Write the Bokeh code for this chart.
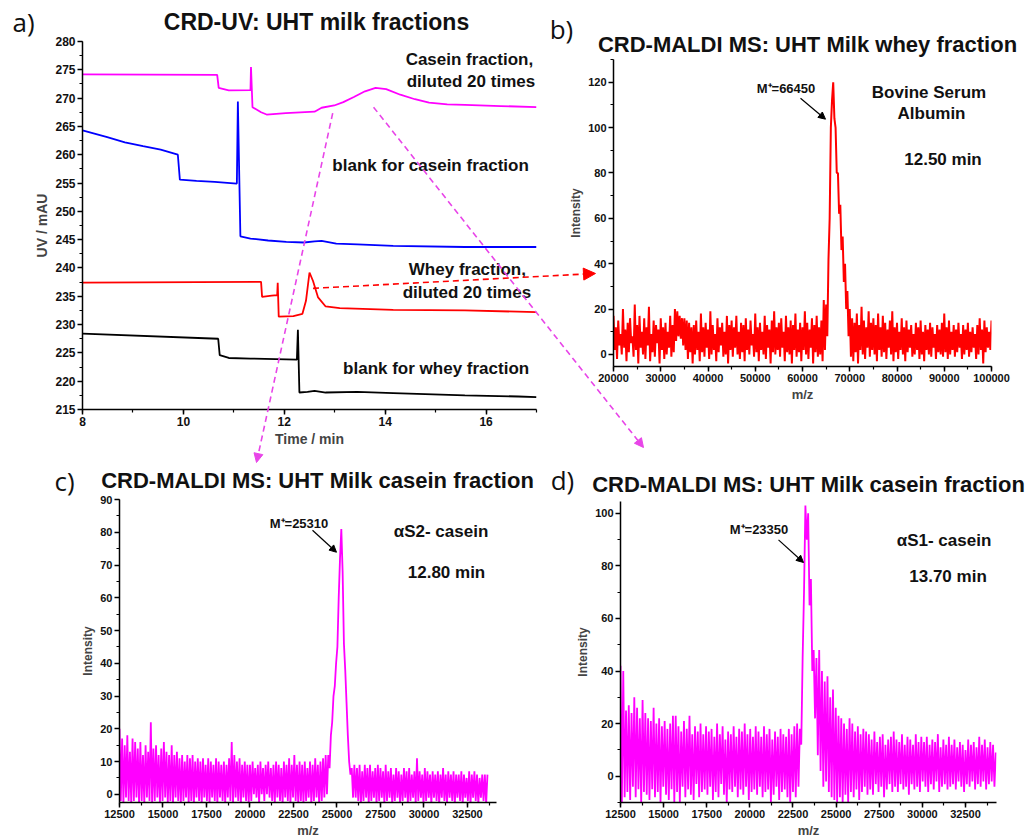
from bokeh.plotting import figure
from bokeh.models import (Range1d, SingleIntervalTicker, BasicTickFormatter,
                          Label, Arrow, NormalHead, Spacer)
from bokeh.layouts import row, column
from bokeh.embed import file_html
from bokeh.resources import INLINE

FONT = "Liberation Sans"

# ---------------- data: panel a (CRD-UV traces) ----------------
casein_t = [8.0, 10.67, 10.70, 10.9, 11.33, 11.34, 11.37, 11.54, 11.65, 12.03, 12.6, 12.74,
            12.99, 13.17, 13.38, 13.6, 13.81, 14.02, 14.3, 14.59, 14.87, 15.23, 15.58, 16.29, 17.0]
casein_uv = [274.2, 274.1, 271.8, 271.35, 271.4, 275.5, 268.4, 267.5, 267.1, 267.35, 267.6, 268.3,
             268.7, 269.3, 270.2, 271.2, 271.8, 271.6, 270.6, 269.8, 269.2, 268.9, 268.8, 268.6, 268.4]

blank_casein_t = [8.0, 8.49, 8.84, 9.2, 9.55, 9.89, 9.93, 10.26, 10.62, 11.06, 11.08, 11.13, 11.33,
                  11.68, 12.04, 12.39, 12.6, 12.74, 13.03, 13.45, 14.16, 15.58, 17.0]
blank_casein_uv = [264.3, 263.1, 262.2, 261.5, 260.9, 260.0, 255.6, 255.4, 255.2, 254.9, 269.4, 245.6,
                   245.2, 244.85, 244.6, 244.5, 244.7, 244.8, 244.3, 244.15, 243.9, 243.7, 243.7]

whey_t = [8.0, 11.54, 11.56, 11.75, 11.86, 11.87, 11.89, 12.18, 12.36, 12.43, 12.5, 12.57, 12.67,
          12.82, 13.1, 14.16, 15.58, 17.0]
whey_uv = [237.4, 237.55, 234.9, 235.1, 235.2, 237.4, 231.4, 231.5, 231.9, 234.2, 239.2, 237.7, 234.8,
           233.2, 232.9, 232.6, 232.5, 232.2]

blank_whey_t = [8.0, 10.69, 10.72, 10.9, 11.33, 12.25, 12.27, 12.3, 12.46, 12.6, 12.82, 13.45, 14.16,
                15.58, 16.64, 17.0]
blank_whey_uv = [228.4, 227.5, 224.6, 224.1, 224.0, 223.8, 229.1, 218.0, 218.1, 218.3, 218.0, 218.1,
                 217.9, 217.5, 217.3, 217.2]

# ---------------- data: panel b (whey MALDI, m/z 20000.. step 250) ----------------
whey_mz_start, whey_mz_step = 20000, 250
whey_int = [
    17, 2, 12, -2, 15, 4, 9, 0, 20, 3, 11, -3, 14, 1, 16, 5, 8, -1, 22, 2,
    13, -4, 17, 3, 10, 0, 16, -2, 12, 4, 21, -3, 9, 1, 15, -1, 13, 5, 11, -4,
    16, 2, 12, -2, 14, 0, 10, 3, 17, -1, 13, 1, 20, 6, 19, 8, 17, 7, 16, 4,
    16, 2, 15, -2, 14, 1, 12, -4, 13, 0, 15, 2, 10, -3, 18, 1, 12, -1, 14, 3,
    11, -2, 19, 0, 13, 2, 9, -3, 16, 1, 12, 4, 14, -1, 10, 0, 17, -4, 13, 2,
    15, -1, 12, 3, 17, 0, 10, -2, 14, 1, 13, -3, 16, 2, 11, 0, 15, 4, 9, -1,
    18, 1, 12, -3, 14, 2, 10, 0, 17, -2, 13, 3, 11, -4, 15, 1, 19, 0, 12, 2,
    14, -1, 16, 3, 10, -3, 17, 1, 12, 0, 15, -4, 13, 2, 18, -1, 11, 1, 14, -3,
    12, 2, 19, 0, 14, -2, 11, 3, 16, -4, 13, 1, 17, -1, 12, 0, 15, -3, 24, 2,
    22, 8, 42, 60, 100, 112, 120, 104, 100, 80, 80, 62, 66, 46, 52, 32, 40, 20, 28, 8,
    20, -1, 16, -3, 14, 1, 18, -4, 13, 2, 21, 0, 15, -2, 12, 3, 19, -1, 14, 2,
    16, 0, 13, -3, 18, 2, 12, -1, 17, 1, 14, -2, 11, 3, 15, 0, 19, -3, 12, 1,
    14, -2, 10, 2, 16, 0, 12, -3, 15, 1, 11, 3, 13, -1, 9, 0, 14, 2, 12, -2,
    15, 0, 10, -3, 13, 2, 11, 0, 14, -1, 12, 3, 9, -2, 13, 1, 11, 0, 14, -1,
    18, 1, 12, -2, 15, 0, 10, 2, 13, -1, 11, 1, 14, 3, 9, -2, 13, 0, 11, 2,
    14, -1, 10, 1, 12, 3, 9, -2, 13, 0, 16, 2, 11, -4, 15, 1, 12, 3, 10, 2,
    15,
]

# ---------------- data: panel c (casein MALDI 12.80 min, m/z 12500.. step 75) ----------------
cas1_mz_start, cas1_mz_step = 12500, 75
cas1_int = [
    20, -2, 17, -3, 15, -1, 18, -2, 13, -3, 17, -2, 16, -1, 14, -3, 16, -2, 12, -3,
    15, -1, 13, -2, 22, -3, 14, -2, 15, -1, 12, -3, 14, -2, 16, -1, 13, -3, 12, -2,
    15, -3, 12, -1, 13, -2, 11, -3, 12, -2, 10, -1, 12, -3, 11, -2, 12, -3, 10, -1,
    11, -2, 10, -3, 11, -1, 9, -2, 11, -3, 10, -1, 9, -2, 11, -3, 10, -1, 9, -2,
    10, -3, 9, -1, 11, -2, 16, -3, 12, -1, 10, -2, 11, -3, 9, -1, 10, -2, 9, -3,
    9, -2, 10, 0, 8, -1, 9, -3, 10, 0, 8, -2, 9, 0, 10, -1, 8, -2, 9, -3,
    10, -1, 9, -2, 8, -3, 10, -1, 9, -2, 11, -3, 9, -1, 12, -2, 9, -3, 10, -2,
    9, -3, 10, -2, 8, -1, 10, -3, 9, -2, 11, -1, 9, -3, 10, -2, 11, -1, 12, 0,
    12, 8, 18, 22, 30, 33, 40, 45, 60, 72, 81, 68, 46, 38, 28, 18, 10, 6, 8, -1,
    9, -1, 8, -2, 9, -3, 7, -2, 9, -1, 8, -3, 9, -2, 7, -1, 8, -3, 9, -2,
    8, -1, 7, -3, 9, -2, 7, -1, 8, -3, 6, -2, 8, -1, 7, -3, 6, -2, 8, -1,
    7, -3, 8, -2, 6, -1, 7, -3, 11, -2, 7, -1, 6, -3, 8, -2, 7, -1, 6, -3,
    7, -1, 6, -2, 7, -3, 6, -1, 8, -2, 6, -3, 7, -1, 6, -2, 7, -3, 6, -1,
    6, -2, 7, -3, 6, -1, 5, -2, 7, -3, 6, -1, 7, -2, 6, -3, 5, -1, 6, -2,
    6, -3, 6,
]

# ---------------- data: panel d (casein MALDI 13.70 min, m/z 12500.. step 80) ----------------
cas2_mz_start, cas2_mz_step = 12500, 80
cas2_int = [
    42, -10, 40, -8, 25, -6, 27, -9, 24, -4, 30, -8, 26, -5, 22, -10, 29, -6, 24, -7,
    22, -9, 21, -5, 26, -8, 20, -6, 22, -10, 19, -4, 21, -7, 18, -9, 20, -5, 23, -10,
    23, -6, 19, -10, 17, -4, 21, -8, 18, -5, 23, -7, 16, -9, 19, -3, 17, -8, 20, -6,
    16, -5, 19, -7, 17, -4, 18, -9, 15, -6, 20, -8, 16, -3, 19, -7, 14, -10, 17, -5,
    16, -6, 19, -4, 15, -8, 18, -5, 17, -7, 20, -4, 16, -9, 18, -6, 15, -5, 19, -7,
    17, -4, 15, -8, 19, -6, 16, -5, 18, -10, 14, -7, 17, -4, 15, -9, 18, -6, 16, -5,
    15, -8, 18, -10, 16, -6, 19, -8, 20, -4, 18, 12, 45, 70, 103, 90, 100, 65, 75, 40,
    48, 22, 45, 8, 48, 2, 40, -4, 36, -2, 38, -6, 30, -8, 33, -9, 26, -10, 23, -8,
    22, -10, 20, -7, 18, -10, 22, -6, 20, -8, 17, -5, 19, -9, 16, -6, 18, -4, 17, -7,
    16, -5, 14, -7, 17, -3, 13, -6, 15, -4, 16, -8, 12, -5, 14, -3, 15, -6, 17, -4,
    14, -6, 13, -3, 16, -5, 12, -4, 15, -7, 14, -3, 12, -5, 16, -4, 13, -6, 15, -2,
    13, -4, 15, -6, 12, -3, 14, -5, 13, -2, 16, -6, 11, -4, 14, -3, 12, -5, 15, -4,
    12, -3, 14, -5, 11, -2, 13, -4, 12, -6, 10, -3, 14, -4, 12, -2, 13, -5, 11, -3,
    15, -4, 12, -2, 14, -5, 11, -3, 13, -2, 12, -4, 9,
]

# ---------------- layout geometry (page px; layout starts at 0,0) ----------------
GEO = {
    "a": dict(frame=(82, 41, 536, 409), border=(82, 24, 41, 40), xr=(8, 17), yr=(215, 280)),
    "b": dict(frame=(613, 59, 991, 366), border=(53, 38, 41, 40), xr=(20000, 100000), yr=(-5.3, 130)),
    "c": dict(frame=(119, 499, 496, 802), border=(119, 64, 50, 36), xr=(12500, 34170), yr=(-2.5, 90)),
    "d": dict(frame=(620, 501, 996, 802), border=(60, 33, 50, 36), xr=(12500, 34300), yr=(-10, 104.5)),
}
PAGE_W, PAGE_H = 1029, 838


def make_fig(key):
    g = GEO[key]
    fl, ft, fr, fb = g["frame"]
    bl, br, bt, bb = g["border"]
    p = figure(frame_width=fr - fl, frame_height=fb - ft,
               min_border_left=bl, min_border_right=br,
               min_border_top=bt, min_border_bottom=bb,
               x_range=Range1d(*g["xr"]), y_range=Range1d(*g["yr"]),
               output_backend="svg", toolbar_location=None, tools="")
    p.xgrid.visible = False
    p.ygrid.visible = False
    p.outline_line_color = None
    p.background_fill_color = "white"
    p.border_fill_color = "white"
    return p


def style_axes(p, xint, yint, tick_fs, xlabel, ylabel, xlab_fs, ylab_fs):
    for ax in (p.xaxis[0], p.yaxis[0]):
        ax.axis_line_width = 1.5
        ax.axis_line_color = "black"
        ax.major_tick_line_width = 1.5
        ax.minor_tick_line_width = 1.2
        ax.major_tick_in = 0
        ax.major_tick_out = 5
        ax.minor_tick_in = 0
        ax.minor_tick_out = 3
        ax.major_label_text_font = FONT
        ax.major_label_text_font_style = "bold"
        ax.major_label_text_font_size = tick_fs
        ax.major_label_text_color = "#111111"
        ax.axis_label_text_font = FONT
        ax.axis_label_text_font_style = "bold"
        ax.major_label_standoff = 2
        ax.axis_label_standoff = 2
        ax.formatter = BasicTickFormatter(use_scientific=False)
    p.xaxis[0].ticker = SingleIntervalTicker(interval=xint, num_minor_ticks=2)
    p.yaxis[0].ticker = SingleIntervalTicker(interval=yint, num_minor_ticks=2)
    p.xaxis[0].axis_label = xlabel
    p.yaxis[0].axis_label = ylabel
    p.xaxis[0].axis_label_text_font_size = xlab_fs
    p.yaxis[0].axis_label_text_font_size = ylab_fs


def d2p(key, x, y):
    """panel data coordinates -> page pixel coordinates"""
    g = GEO[key]
    fl, ft, fr, fb = g["frame"]
    x0, x1 = g["xr"]
    y0, y1 = g["yr"]
    return fl + (x - x0) / (x1 - x0) * (fr - fl), fb - (y - y0) / (y1 - y0) * (fb - ft)


def data_label(fig, x, y, text, size):
    fig.add_layout(Label(x=x, y=y, text=text, text_align="center", text_baseline="middle",
                         text_font=FONT, text_font_style="bold", text_font_size=size,
                         text_color="#111111"))


def data_arrow(fig, x0, y0, x1, y1):
    fig.add_layout(Arrow(x_start=x0, y_start=y0, x_end=x1, y_end=y1, line_width=1.2,
                         line_color="black",
                         end=NormalHead(size=7, fill_color="black", line_color="black")))


figs = {k: make_fig(k) for k in "abcd"}
pa, pb, pc, pd = figs["a"], figs["b"], figs["c"], figs["d"]

# ---- panel a ----
style_axes(pa, 2, 5, "12px", "Time / min", "UV / mAU", "14px", "14px")
pa.line(casein_t, casein_uv, line_color="#ff00ff", line_width=1.8)
pa.line(blank_casein_t, blank_casein_uv, line_color="#0000ff", line_width=1.8)
pa.line(whey_t, whey_uv, line_color="#ff0000", line_width=1.8)
pa.line(blank_whey_t, blank_whey_uv, line_color="#000000", line_width=1.8)
data_label(pa, 15.67, 276.9, "Casein fraction,", "17px")
data_label(pa, 15.7, 273.0, "diluted 20 times", "17px")
data_label(pa, 14.9, 258.1, "blank for casein fraction", "17px")
data_label(pa, 15.63, 239.8, "Whey fraction,", "17px")
data_label(pa, 15.62, 235.7, "diluted 20 times", "17px")
data_label(pa, 15.01, 222.2, "blank for whey fraction", "17px")

# ---- panel b ----
style_axes(pb, 10000, 20, "11px", "m/z", "Intensity", "13px", "12px")
whey_mz = [whey_mz_start + whey_mz_step * i for i in range(len(whey_int))]
pb.line(whey_mz, whey_int, line_color="#ff0000", line_width=2.0)
data_label(pb, 56508, 117.3, "M\u207a=66450", "13px")
data_arrow(pb, 59577, 112.9, 64868, 103.7)
data_label(pb, 86772, 115.6, "Bovine Serum", "17px")
data_label(pb, 87302, 106.3, "Albumin", "17px")
data_label(pb, 89736, 86.0, "12.50 min", "17px")

# ---- panel c ----
style_axes(pc, 2500, 10, "11px", "m/z", "Intensity", "13px", "12px")
cas1_mz = [cas1_mz_start + cas1_mz_step * i for i in range(len(cas1_int))]
pc.line(cas1_mz, cas1_int, line_color="#ff00ff", line_width=1.8)
data_label(pc, 22818, 82.7, "M\u207a=25310", "13px")
data_arrow(pc, 23594, 80.6, 24973, 73.9)
data_label(pc, 30980, 80.3, "\u03b1S2- casein", "17px")
data_label(pc, 31296, 67.6, "12.80 min", "17px")

# ---- panel d ----
style_axes(pd, 2500, 20, "11px", "m/z", "Intensity", "13px", "12px")
cas2_mz = [cas2_mz_start + cas2_mz_step * i for i in range(len(cas2_int))]
pd.line(cas2_mz, cas2_int, line_color="#ff00ff", line_width=1.8)
data_label(pd, 20530, 94.0, "M\u207a=23350", "13px")
data_arrow(pd, 21661, 89.9, 23110, 81.3)
data_label(pd, 31256, 89.5, "\u03b1S1- casein", "17px")
data_label(pd, 31489, 76.0, "13.70 min", "17px")

# ---- transparent overlay (page pixel space) for titles, panel letters, connectors ----
ov = figure(frame_width=PAGE_W, frame_height=PAGE_H, min_border=0,
            x_range=Range1d(0, PAGE_W), y_range=Range1d(PAGE_H, 0),
            x_axis_location=None, y_axis_location=None,
            output_backend="svg", toolbar_location=None, tools="",
            styles={"position": "absolute", "left": "0px", "top": "0px",
                    "z-index": "10", "pointer-events": "none"})
ov.xgrid.visible = False
ov.ygrid.visible = False
ov.outline_line_color = None
ov.background_fill_alpha = 0
ov.border_fill_alpha = 0


def ov_text(px, py, text, size, font=FONT, style="bold"):
    ov.add_layout(Label(x=px, y=py, text=text, text_align="center", text_baseline="middle",
                        text_font=font, text_font_style=style, text_font_size=size,
                        text_color="#111111"))


ov_text(316, 21, "CRD-UV: UHT milk fractions", "23px")
ov_text(23, 21, "a)", "26px", font="Open Sans", style="normal")
ov_text(807, 44, "CRD-MALDI MS: UHT Milk whey fraction", "22px")
ov_text(561, 28, "b)", "26px", font="Open Sans", style="normal")
ov_text(317, 480, "CRD-MALDI MS: UHT Milk casein fraction", "22px")
ov_text(64, 480, "c)", "26px", font="Open Sans", style="normal")
ov_text(808, 484, "CRD-MALDI MS: UHT Milk casein fraction", "22px")
ov_text(562, 479, "d)", "26px", font="Open Sans", style="normal")


def connector(src, sx, sy, dst, dx, dy, color, head_size):
    x0, y0 = d2p(src, sx, sy)
    x1, y1 = d2p(dst, dx, dy)
    ov.add_layout(Arrow(x_start=x0, y_start=y0, x_end=x1, y_end=y1,
                        line_color=color, line_width=1.6, line_dash="6 4",
                        end=NormalHead(size=head_size, fill_color=color, line_color=color)))


connector("a", 12.57, 236.4, "b", 16190, 35.7, "#ff0000", 12)
connector("a", 12.96, 267.35, "c", 20375, 101.3, "#e845e8", 9)
connector("a", 13.77, 268.4, "b", 26349, -41.0, "#e845e8", 9)

layout = column(row(pa, column(Spacer(height=18, width=469), pb)),
                row(pc, column(Spacer(height=2, width=469), pd)),
                ov)
open("out.html", "w").write(file_html(layout, INLINE, title="CRD milk fractions"))
